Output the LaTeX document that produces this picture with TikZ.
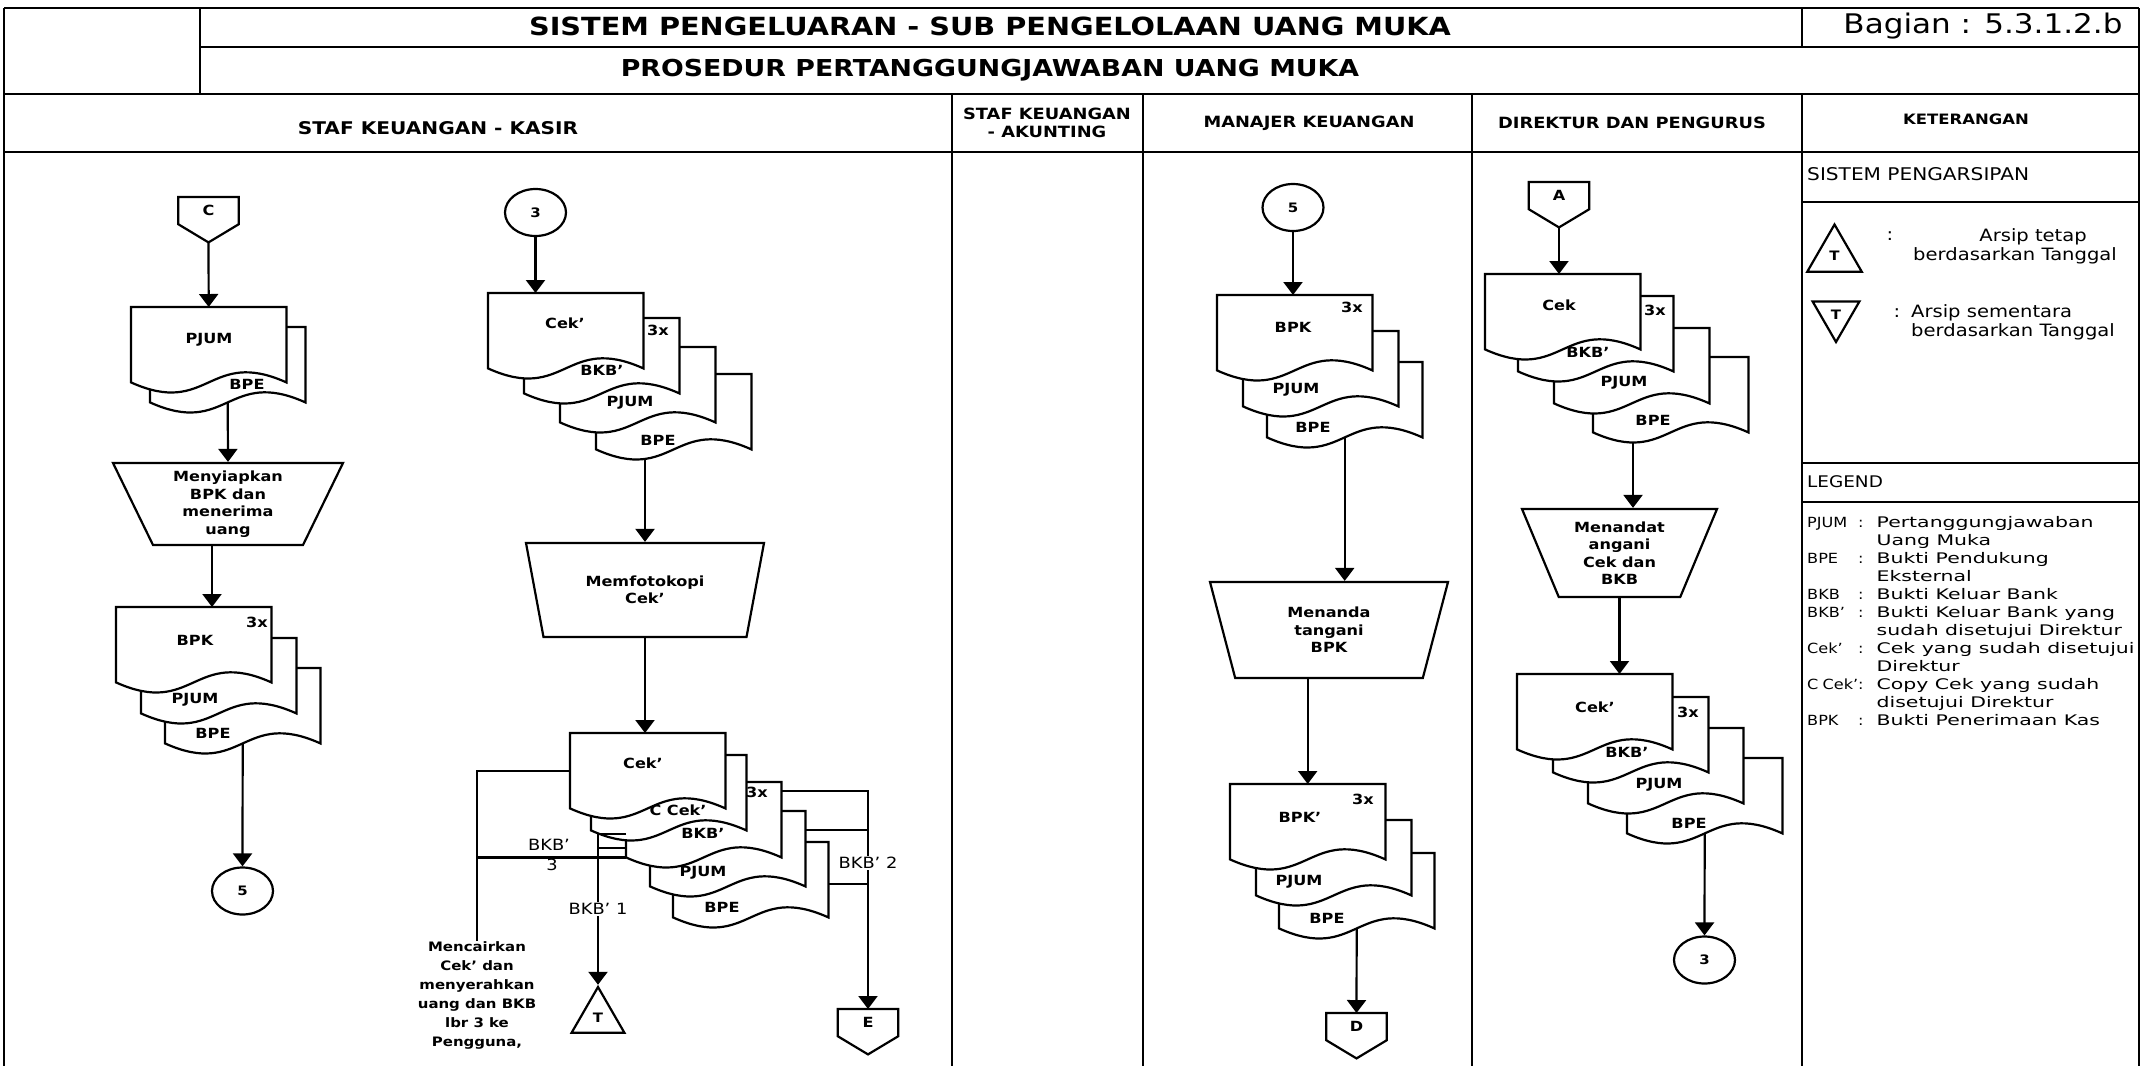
\documentclass[tikz,border=0pt]{standalone}
\usepackage{fontspec}
\usepackage{array}
\setmainfont[FakeStretch=1.15]{DejaVu Sans}
\newfontfamily\legfont[FakeStretch=1.4]{DejaVu Sans}
\usetikzlibrary{shapes.geometric,arrows.meta,positioning,calc}

% document symbol: node (name) with top left corner at position
\newcommand{\docu}[2]{%
  \node[docbox] (#1) at (#2) {};
  \draw[docline] (#1.south west) -- (#1.north west) -- (#1.north east) -- (#1.south east)
    .. controls ($(#1.south)+(0,-35)$) and ($(#1.south)+(0,35)$) .. (#1.south west) -- cycle;
}
% off-page connector: name, top centre, letter
\newcommand{\offpage}[3]{%
  \node[offpg] (#1) at (#2) {};
  \draw[docline] (#1.north west) -- (#1.north east) -- ($(#1.north east)!0.6!(#1.south east)$)
    -- (#1.south) -- ($(#1.north west)!0.6!(#1.south west)$) -- cycle;
  \node[doctxt] (#1t) at ($(#1.north)!0.3!(#1.south)$) {#3};
}
\newcommand{\abbrfont}{\rmfamily\fontsize{14}{18}\selectfont}

\begin{document}
\begin{tikzpicture}[
    x=1pt, y=-1pt,
    gridline/.style={line width=2.5pt},
    docline/.style={draw, fill=white, line width=2.2pt},
    docbox/.style={anchor=north west, minimum width=155pt, minimum height=75pt, inner sep=0pt},
    offpg/.style={anchor=north, minimum width=60pt, minimum height=45pt, inner sep=0pt},
    conn/.style={draw, ellipse, line width=2.2pt, minimum width=61pt, minimum height=47pt, inner sep=0pt, font=\fontsize{13}{15}\selectfont\bfseries},
    proc/.style={draw, trapezium, shape border rotate=180, trapezium stretches body, line width=2.2pt, align=center, inner sep=3pt, font=\fontsize{14}{17.5}\selectfont\bfseries},
    arsip/.style={draw, regular polygon, regular polygon sides=3, minimum size=61pt, inner sep=0pt, line width=2.2pt, font=\fontsize{13}{15}\selectfont\bfseries},
    arrow/.style={-{Triangle[length=13pt,width=19pt]}, line width=2.2pt},
    wire/.style={line width=2.2pt},
    doctxt/.style={font=\fontsize{14}{16}\selectfont\bfseries, inner sep=1pt},
    flowlbl/.style={font=\fontsize{15.5}{17}\selectfont, fill=white, inner sep=1.5pt},
    colhead/.style={font=\fontsize{15.5}{18}\selectfont\bfseries, align=center},
    kettxt/.style={font=\fontsize{17}{19}\selectfont, inner sep=0pt},
    legtxt/.style={font=\legfont\fontsize{14.6}{18}\selectfont, inner sep=0pt}
]
\useasboundingbox (0,0) rectangle (2142,1066);

% Frame and lanes
\draw[gridline] (4,8) -- (2139,8);
\draw[gridline] (200,47) -- (2139,47);
\draw[gridline] (4,94) -- (2139,94);
\draw[gridline] (4,152) -- (2139,152);
\draw[gridline] (4,8) -- (4,1066);
\draw[gridline] (2139,8) -- (2139,1066);
\draw[gridline] (200,8) -- (200,94);
\draw[gridline] (1802,8) -- (1802,47);
\draw[gridline] (952,94) -- (952,1066);
\draw[gridline] (1143,94) -- (1143,1066);
\draw[gridline] (1472,94) -- (1472,1066);
\draw[gridline] (1802,94) -- (1802,1066);
\draw[gridline] (1802,202) -- (2139,202);
\draw[gridline] (1802,463) -- (2139,463);
\draw[gridline] (1802,502) -- (2139,502);

% Titles
\node[font=\fontsize{25}{28}\selectfont\bfseries] (judul) at (990,26) {SISTEM PENGELUARAN - SUB PENGELOLAAN UANG MUKA};
\node[font=\fontsize{27}{30}\selectfont] (bagian) at (1983,26) {Bagian : 5.3.1.2.b};
\node[font=\fontsize{23.3}{26}\selectfont\bfseries] (subjudul) at (990,70) {PROSEDUR PERTANGGUNGJAWABAN UANG MUKA};

% Lane headers
\node[colhead, font=\fontsize{17.5}{18}\selectfont\bfseries] (hkasir) at (438,128) {STAF KEUANGAN - KASIR};
\node[colhead] (hakun) at (1047,123) {STAF KEUANGAN\\- AKUNTING};
\node[colhead] (hmanajer) at (1309,123) {MANAJER KEUANGAN};
\node[colhead] (hdir) at (1632,123) {DIREKTUR DAN PENGURUS};
\node[colhead, font=\fontsize{14.3}{18}\selectfont\bfseries] (hket) at (1966,119) {KETERANGAN};

% Kasir - first flow
\offpage{offC}{208.5,197}{C}
\docu{k1d2}{150,327}
\docu{k1d1}{131,307}
\node[doctxt] (k1t1) at (209,340) {PJUM};
\node[doctxt] (k1t2) at (247,384) {BPE};
\node[proc, trapezium angle=61, minimum width=230pt, minimum height=82pt] (siap) at (228,504) {Menyiapkan\\BPK dan\\menerima\\uang};
\docu{k2d3}{165,668}
\docu{k2d2}{141,638}
\docu{k2d1}{116,607}
\node[doctxt] (k2t0) at (257,622) {3x};
\node[doctxt] (k2t1) at (195,640) {BPK};
\node[doctxt] (k2t2) at (195,700) {PJUM};
\node[doctxt] (k2t3) at (213,733) {BPE};
\node[conn] (lg5a) at (242.5,891) {5};

\coordinate (siapout) at ($(siap.south)+(-16,0)$);
\draw[arrow] (offC.south) -- (k1d1.north);
\draw[arrow] (k1d2.south) -- (siap.north);
\draw[arrow] (siapout) -- (siapout |- k2d1.north);
\draw[arrow] (k2d3.south) -- (lg5a.north);

% Kasir - second flow
\node[conn] (lg3a) at (535.5,212.5) {3};
\docu{k3d4}{596,374}
\docu{k3d3}{560,347}
\docu{k3d2}{524,318}
\docu{k3d1}{488,293}
\node[doctxt] (k3t1) at (565,323) {Cek'};
\node[doctxt] (k3t0) at (658,330) {3x};
\node[doctxt] (k3t2) at (602,370) {BKB'};
\node[doctxt] (k3t3) at (630,403) {PJUM};
\node[doctxt] (k3t4) at (658,440) {BPE};
\node[proc, trapezium angle=63, minimum width=238pt, minimum height=94pt] (foto) at (645,590) {Memfotokopi\\Cek'};
\docu{k4d5}{673,842}
\docu{k4d4}{650,811}
\docu{k4d3}{626,782}
\docu{k4d2}{591,755}
\docu{k4d1}{570,733}
\node[doctxt] (k4t1) at (643,763) {Cek'};
\node[doctxt] (k4t2) at (678,810) {C Cek'};
\node[doctxt] (k4t0) at (757,792) {3x};
\node[doctxt] (k4t3) at (703,833) {BKB'};
\node[doctxt] (k4t4) at (703,873) {PJUM};
\node[doctxt] (k4t5) at (722,907) {BPE};
\node[arsip] (arsT) at (598,1017.5) {T};
\offpage{offE}{868,1009}{E}
\node[font=\fontsize{13}{19}\selectfont\bfseries, align=center, anchor=north, inner sep=0pt] (cair) at (477,941) {Mencairkan\\Cek' dan\\menyerahkan\\uang dan BKB\\lbr 3 ke\\Pengguna,};

\coordinate (fotoin) at ($(foto.north |- k3d4.south)+(0,10)$);
\draw[arrow] (lg3a.south) -- (lg3a.south |- k3d1.north);
\draw[arrow] (fotoin) -- (foto.north);
\draw[arrow] (foto.south) -- (foto.south |- k4d1.north);
\draw[wire] (k4d1.west) -| (cair.north);
\draw[wire] (k4d3.south west) -- (k4d3.south west -| cair.north);
\draw[wire] ([yshift=-28pt]k4d3.west) -- ([yshift=-28pt]k4d3.west -| arsT.north);
\draw[arrow] ([yshift=-14pt]k4d3.west) -| node[flowlbl, pos=0.75] (lbkb1) {BKB' 1} (arsT.north);
\node[flowlbl, fill=none] (lbkb3) at (549,845) {BKB'};
\node[flowlbl, fill=none] (lbkb3n) at (552,865) {3};
\draw[arrow] ([yshift=-9pt]k4d3.north east) -| node[flowlbl, pos=0.665] (lbkb2) {BKB' 2} (offE.north);
\draw[wire] ([yshift=-19pt]k4d4.north east) -- ([yshift=-19pt]k4d4.north east -| offE.north);
\draw[wire] ([yshift=-42pt]k4d5.north east) -- ([yshift=-42pt]k4d5.north east -| offE.north);

% Manajer keuangan
\node[conn] (lg5b) at (1293,207.5) {5};
\docu{m1d3}{1267,362}
\docu{m1d2}{1243,331}
\docu{m1d1}{1217,295}
\node[doctxt] (m1t0) at (1352,307) {3x};
\node[doctxt] (m1t1) at (1293,327) {BPK};
\node[doctxt] (m1t2) at (1296,390) {PJUM};
\node[doctxt] (m1t3) at (1313,427) {BPE};
\node[proc, trapezium angle=64, minimum width=238pt, minimum height=96pt] (tanda) at (1329,630) {Menanda\\tangani\\BPK};
\docu{m2d3}{1279,853}
\docu{m2d2}{1256,820}
\docu{m2d1}{1230,784}
\node[doctxt] (m2t0) at (1363,799) {3x};
\node[doctxt] (m2t1) at (1300,817) {BPK'};
\node[doctxt] (m2t2) at (1299,882) {PJUM};
\node[doctxt] (m2t3) at (1327,918) {BPE};
\offpage{offD}{1356.5,1013}{D}

\draw[arrow] (lg5b.south) -- (lg5b.south |- m1d1.north);
\draw[arrow] (m1d3.south) -- (m1d3.south |- tanda.north);
\draw[arrow] (tanda.south -| m2d1.north) -- (m2d1.north);
\draw[arrow] (m2d3.south) -- (offD.north);

% Direktur dan pengurus
\offpage{offA}{1559,182}{A}
\docu{d1d4}{1593,357}
\docu{d1d3}{1554,328}
\docu{d1d2}{1518,296}
\docu{d1d1}{1485,274}
\node[doctxt] (d1t1) at (1559,305) {Cek};
\node[doctxt] (d1t0) at (1655,310) {3x};
\node[doctxt] (d1t2) at (1588,352) {BKB'};
\node[doctxt] (d1t3) at (1624,383) {PJUM};
\node[doctxt] (d1t4) at (1653,420) {BPE};
\node[proc, trapezium angle=62, minimum width=195pt, minimum height=88pt] (ttd) at (1619.5,553) {Menandat\\angani\\Cek dan\\BKB};
\docu{d2d4}{1627,758}
\docu{d2d3}{1588,728}
\docu{d2d2}{1553,697}
\docu{d2d1}{1517,674}
\node[doctxt] (d2t1) at (1595,707) {Cek'};
\node[doctxt] (d2t0) at (1688,712) {3x};
\node[doctxt] (d2t2) at (1627,752) {BKB'};
\node[doctxt] (d2t3) at (1659,785) {PJUM};
\node[doctxt] (d2t4) at (1689,823) {BPE};
\node[conn] (lg3b) at (1704.5,960) {3};

\coordinate (ttdin) at ($(ttd.north |- d1d4.south)+(13.5,10)$);
\draw[arrow] (offA.south) -- (offA.south |- d1d1.north);
\draw[arrow] (ttdin) -- (ttdin |- ttd.north);
\draw[arrow] (ttd.south) -- (ttd.south |- d2d1.north);
\draw[arrow] (d2d4.south) -- (lg3b.north);

% Keterangan - sistem pengarsipan
\node[kettxt, font=\fontsize{17.5}{19}\selectfont, anchor=west] (arsipjudul) at (1807,174) {SISTEM PENGARSIPAN};
\node[arsip, minimum size=63pt] (legT1) at (1834.5,256) {T};
\node[kettxt] (legc1) at (1890,236) {:};
\node[kettxt, align=right, anchor=east] (legd1) at (2117,246) {Arsip tetap\hspace*{30pt}\\berdasarkan Tanggal};
\node[arsip, shape border rotate=180, minimum size=54pt] (legT2) at (1836,315) {T};
\node[kettxt] (legc2) at (1897,313) {:};
\node[kettxt, align=left, anchor=west] (legd2) at (1911,322) {Arsip sementara\\berdasarkan Tanggal};

% Keterangan - legend
\node[kettxt, font=\fontsize{16}{19}\selectfont, anchor=west] (legjudul) at (1807,482) {LEGEND};
\node[legtxt, anchor=north west] (leglist) at (1807,515) {%
\begin{tabular}{@{}>{\abbrfont}p{51pt}@{}>{\abbrfont}c@{\hspace{13pt}}l@{}}
PJUM & : & Pertanggungjawaban\\
 & & Uang Muka\\
BPE & : & Bukti Pendukung\\
 & & Eksternal\\
BKB & : & Bukti Keluar Bank\\
BKB' & : & Bukti Keluar Bank yang\\
 & & sudah disetujui Direktur\\
Cek' & : & Cek yang sudah disetujui\\
 & & Direktur\\
C~Cek' & : & Copy Cek yang sudah\\
 & & disetujui Direktur\\
BPK & : & Bukti Penerimaan Kas
\end{tabular}};

\end{tikzpicture}
\end{document}
